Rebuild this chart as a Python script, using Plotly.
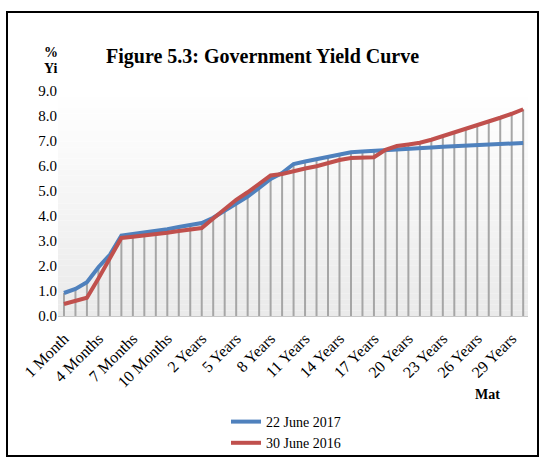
import plotly.graph_objects as go

# Maturity buckets: 1-11 months, 1 year, then 2-30 years
maturities = (["1 Month"] + [f"{m} Months" for m in range(2, 12)]
              + ["1 Year"] + [f"{y} Years" for y in range(2, 31)])

yield_2017 = [0.92, 1.08, 1.35, 1.95, 2.45, 3.22, 3.28, 3.33, 3.40, 3.47,
              3.56, 3.65, 3.72, 3.93, 4.22, 4.52, 4.78, 5.12, 5.48, 5.72,
              6.08, 6.18, 6.28, 6.38, 6.48, 6.55, 6.58, 6.60, 6.63, 6.66,
              6.69, 6.72, 6.74, 6.77, 6.79, 6.81, 6.83, 6.85, 6.87, 6.89,
              6.92]
yield_2016 = [0.48, 0.60, 0.73, 1.50, 2.30, 3.12, 3.17, 3.21, 3.27, 3.33,
              3.40, 3.45, 3.52, 3.90, 4.30, 4.65, 4.95, 5.28, 5.62, 5.68,
              5.80, 5.90, 5.99, 6.12, 6.24, 6.32, 6.34, 6.35, 6.65, 6.80,
              6.86, 6.93, 7.05, 7.19, 7.33, 7.49, 7.64, 7.79, 7.93, 8.09,
              8.27]

series_names = ["22 June 2017", "30 June 2016"]
series_colors = ["#4f81bd", "#c0504d"]
tick_labels = maturities[::3]
y_ticks = [float(v) for v in range(0, 10)]

W, H = 540, 457
ML, MR, MT, MB = 58, 12, 91, 141
PW, PH = W - ML - MR, H - MT - MB
FONT = "Liberation Serif"


def px_x(p):
    return (p - ML) / PW


def px_y(p):
    return (H - MB - p) / PH


fig = go.Figure()

# Drop lines from the axis up to the higher of the two curves
drop_x, drop_y = [], []
for cat, a, b in zip(maturities, yield_2017, yield_2016):
    drop_x += [cat, cat, None]
    drop_y += [0, max(a, b), None]
fig.add_trace(go.Scatter(x=drop_x, y=drop_y, mode="lines",
                         line=dict(color="#a6a6a6", width=2),
                         showlegend=False, hoverinfo="skip"))

for name, vals, col in zip(series_names, [yield_2017, yield_2016], series_colors):
    fig.add_trace(go.Scatter(x=maturities, y=vals, mode="lines", name=name,
                             line=dict(color=col, width=4)))

# Soft vertical gradient behind the plot area
shapes = []
n_strips = 40
for i in range(n_strips):
    t = i / (n_strips - 1)
    c = int(round(255 - (255 - 234) * t))
    shapes.append(dict(type="rect", xref="x domain", yref="y domain",
                       x0=0, x1=1, y0=1 - (i + 1) / n_strips, y1=1 - i / n_strips,
                       fillcolor=f"rgb({c},{c},{c})", line=dict(width=0),
                       layer="below"))
# Outer frame
shapes.append(dict(type="rect", xref="paper", yref="paper",
                   x0=px_x(7), x1=px_x(538), y0=px_y(456), y1=px_y(12),
                   line=dict(color="black", width=2), fillcolor="rgba(0,0,0,0)"))

annotations = [
    dict(text="<b>Figure 5.3: Government Yield Curve</b>", xref="paper", yref="paper",
         x=px_x(262), y=px_y(43), showarrow=False, font=dict(size=20, color="black")),
    dict(text="<b>%</b>", xref="paper", yref="paper", x=px_x(42), y=px_y(43),
         showarrow=False, font=dict(size=14, color="black")),
    dict(text="<b>Yi</b>", xref="paper", yref="paper", x=px_x(42), y=px_y(59),
         showarrow=False, font=dict(size=14, color="black")),
    dict(text="<b>Mat</b>", xref="paper", yref="paper", x=px_x(502), y=px_y(404),
         showarrow=False, font=dict(size=14, color="black")),
]

fig.update_layout(
    width=W, height=H,
    margin=dict(l=ML, r=MR, t=MT, b=MB, autoexpand=False),
    paper_bgcolor="white", plot_bgcolor="white",
    font=dict(family=FONT, size=15, color="black"),
    shapes=shapes, annotations=annotations,
    showlegend=True,
    legend=dict(x=px_x(226), y=px_y(406), xanchor="left", yanchor="top",
                bgcolor="rgba(0,0,0,0)", font=dict(size=14),
                tracegroupgap=0, itemwidth=30),
    xaxis=dict(type="category", categoryorder="array", categoryarray=maturities,
               tickmode="array", tickvals=tick_labels, ticktext=tick_labels,
               tickangle=-45, range=[-0.52, 40.42], showgrid=False,
               showline=True, linecolor="#c8c8c8", linewidth=1,
               ticks="", zeroline=False, tickfont=dict(size=16),
               ticklabelstandoff=6, automargin=False),
    yaxis=dict(range=[0, 9], tickmode="array", tickvals=y_ticks,
               tickformat=".1f", showgrid=False, zeroline=False,
               showline=False, ticks="", tickfont=dict(size=15),
               automargin=False),
)

fig.write_html("out.html")
